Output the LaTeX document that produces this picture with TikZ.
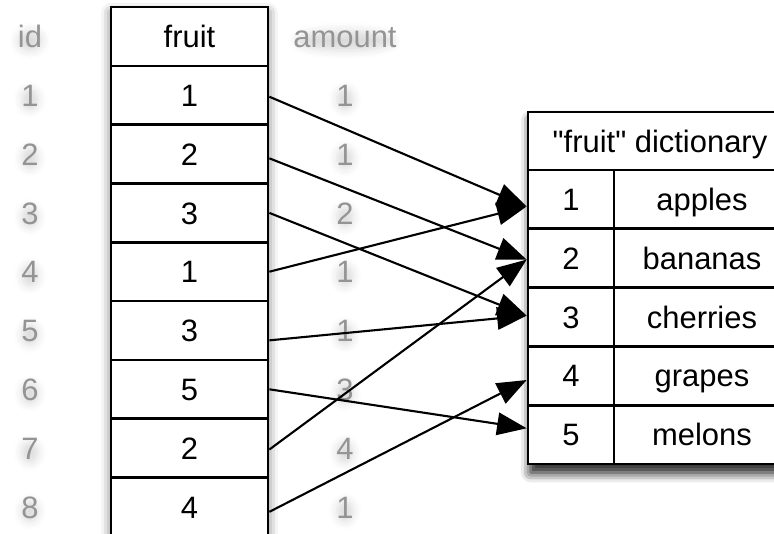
\documentclass[tikz,border=0pt]{standalone}
\usepackage{fontspec}
\setmainfont{Liberation Sans}[Ligatures=TeXOff]
\usetikzlibrary{arrows.meta, positioning, shadows.blur}

\begin{document}
\begin{tikzpicture}[
    x=0.025cm, y=-0.025cm,
    >={Triangle[length=21pt, width=16pt, fill=black]},
    txt/.style={font=\fontsize{22}{26}\selectfont, text height=15.8pt, text depth=0pt},
    cell/.style={txt, rectangle, draw, line width=1.9pt, fill=white, inner sep=0pt, minimum height=1.47cm},
    col/.style={txt, text=black!42},
    halo/.style={blur shadow={shadow xshift=0pt, shadow yshift=-3pt, shadow blur radius=6pt, shadow opacity=14}},
    tabshadow/.style={fill=white, blur shadow={shadow xshift=0pt, shadow yshift=-4pt, shadow blur radius=7pt, shadow opacity=60}},
    conn/.style={->, line width=1.5pt}
]
\useasboundingbox (0,0) rectangle (774,533);

% -------- Columns --------
\def\xid{30}
\def\xfruit{189.5}
\def\xamt{345}
\def\ytop{36.5}
\def\rowh{58.8}

% -------- Fruit column (table) --------
\fill[tabshadow] (111,7) rectangle (268,545);
\node[cell, minimum width=3.925cm] (fhead) at (\xfruit,\ytop) {fruit};
\foreach \v [count=\i] in {1,2,3,1,3,5,2,4} {
    \node[cell, minimum width=3.925cm] (f\i) at (\xfruit,\ytop+\i*\rowh) {\v};
}

% -------- id and amount columns --------
\path[halo] (\xid,\ytop) ellipse (12 and 10);
\path[halo] (\xamt,\ytop) ellipse (48 and 10);
\node[col] (idhead) at (\xid,\ytop) {id};
\node[col] (amthead) at (\xamt,\ytop) {amount};
\foreach \a [count=\i] in {1,1,2,1,1,3,4,1} {
    \path[halo] (\xid,\ytop+\i*\rowh) ellipse (8 and 10);
    \path[halo] (\xamt,\ytop+\i*\rowh) ellipse (8 and 10);
    \node[col] (id\i) at (\xid,\ytop+\i*\rowh) {\i};
    \node[col] (amt\i) at (\xamt,\ytop+\i*\rowh) {\a};
}

% -------- Dictionary --------
\fill[tabshadow, blur shadow={shadow xshift=2pt, shadow yshift=-6pt}] (528,112) rectangle (790,464);
\node[cell, minimum width=6.6cm, minimum height=1.45cm] (dhead) at (660,141) {"fruit" dictionary};
\foreach \name [count=\i] in {apples,bananas,cherries,grapes,melons} {
    \node[cell, minimum width=2.15cm] (d\i) at (571,170+\i*\rowh-\rowh/2) {\i};
    \node[cell, minimum width=4.4cm] (n\i) at (702,170+\i*\rowh-\rowh/2) {\name};
}

% -------- fruit -> dictionary --------
\foreach \i/\j/\s/\t in {1/1/-1/-5, 2/2/-3/-1, 3/3/0/1, 4/1/0/-5, 5/3/-7/1, 6/5/0/4.5, 7/2/-1/-1, 8/4/-3.5/-3} {
    \draw[conn] ([yshift=\s pt]f\i.east) -- ([yshift=\t pt]d\j.west);
}

\end{tikzpicture}
\end{document}
